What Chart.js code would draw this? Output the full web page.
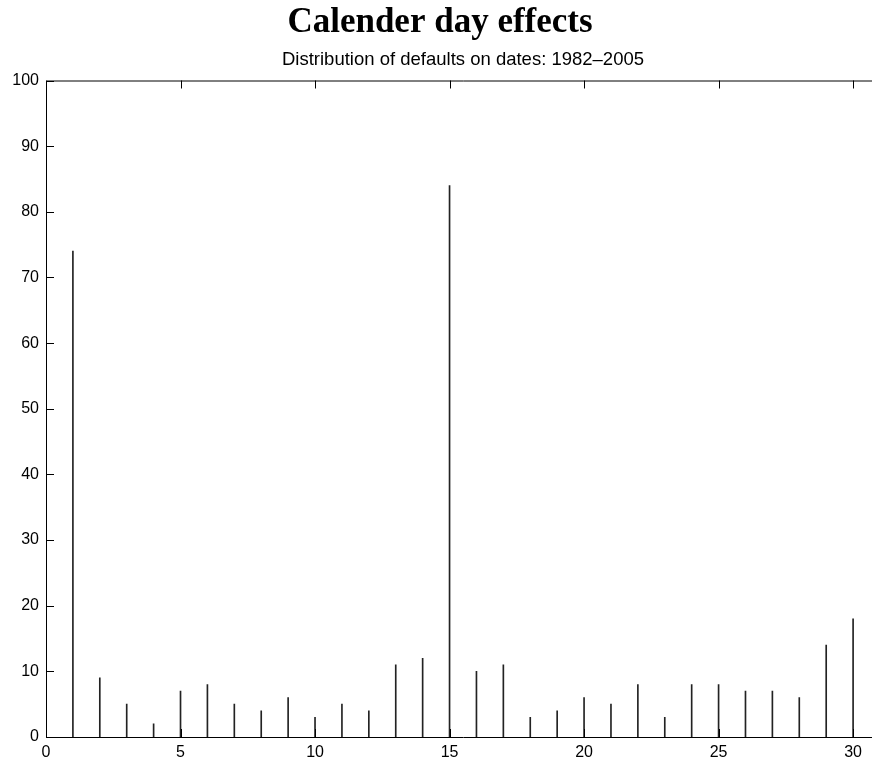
<!DOCTYPE html>
<html>
<head>
<meta charset="utf-8">
<script src="https://cdn.jsdelivr.net/npm/chart.js@4.4.1/dist/chart.umd.min.js"></script>
<style>
  html, body { margin: 0; padding: 0; background: #fff; overflow: hidden; }
  #clip { width: 872px; height: 765px; overflow: hidden; position: relative; }
  #wrap { width: 880px; height: 765px; position: absolute; left: 0; top: 0; }
</style>
</head>
<body>
<div id="clip"><div id="wrap"><canvas id="c"></canvas></div></div>
<script>
// ---- data ----
const days = [1,2,3,4,5,6,7,8,9,10,11,12,13,14,15,16,17,18,19,20,21,22,23,24,25,26,27,28,29,30];
const defaults = [74,9,5,2,7,8,5,4,6,3,5,4,11,12,84,10,11,3,4,6,5,8,3,8,8,7,7,6,14,18];
const xTicks = [0,5,10,15,20,25,30];
const yTicks = [0,10,20,30,40,50,60,70,80,90,100];
const titleText = 'Calender day effects';
const subtitleText = 'Distribution of defaults on dates: 1982\u20132005';

const inwardTicks = {
  id: 'inwardTicks',
  afterDraw(chart) {
    const {ctx, chartArea: a, scales: {x, y}} = chart;
    const L = 8;
    ctx.save();
    ctx.strokeStyle = '#000';
    ctx.lineWidth = 1;
    ctx.beginPath();
    // frame: bottom, left, top (right edge lies outside the visible window)
    ctx.moveTo(a.right + 0.5, a.bottom + 0.5);
    ctx.lineTo(a.left + 0.5, a.bottom + 0.5);
    ctx.lineTo(a.left + 0.5, a.top + 0.5);
    ctx.lineTo(a.right + 0.5, a.top + 0.5);
    xTicks.forEach(v => {
      const px = Math.round(x.getPixelForValue(v)) + 0.5;
      ctx.moveTo(px, a.bottom); ctx.lineTo(px, a.bottom - L);
      ctx.moveTo(px, a.top); ctx.lineTo(px, a.top + L);
    });
    yTicks.forEach(v => {
      const py = Math.round(y.getPixelForValue(v)) + 0.5;
      ctx.moveTo(a.left, py); ctx.lineTo(a.left + L, py);
    });
    ctx.stroke();
    ctx.restore();
  }
};

new Chart(document.getElementById('c'), {
  type: 'bar',
  data: {
    datasets: [{
      data: days.map((d, i) => ({x: d, y: defaults[i]})),
      backgroundColor: '#222',
      borderWidth: 0,
      barThickness: 1,
      grouped: false
    }]
  },
  options: {
    responsive: true,
    maintainAspectRatio: false,
    animation: false,
    devicePixelRatio: 1,
    layout: { padding: { left: 0, right: 0, top: 0, bottom: 0 } },
    plugins: {
      legend: { display: false },
      tooltip: { enabled: false },
      title: {
        display: true,
        text: titleText,
        color: '#000',
        font: { family: 'Liberation Serif', size: 35, weight: 'bold', lineHeight: 1.0 },
        padding: { top: 5, bottom: 7 }
      },
      subtitle: {
        display: true,
        text: subtitleText,
        color: '#000',
        fullSize: false,
        font: { family: 'Liberation Sans', size: 18.5, lineHeight: 1.0 },
        padding: { top: 4, bottom: 11 }
      }
    },
    scales: {
      x: {
        type: 'linear',
        min: 0,
        max: 31,
        offset: false,
        grid: { display: false, drawTicks: false },
        border: { display: false },
        afterBuildTicks: (s) => { s.ticks = xTicks.map(v => ({value: v})); },
        afterFit: (s) => { s.height = 28; },
        ticks: {
          color: '#000',
          padding: 6,
          maxRotation: 0,
          font: { family: 'Liberation Sans', size: 16 }
        }
      },
      y: {
        min: 0,
        max: 100,
        grid: { display: false, drawTicks: false },
        border: { display: false },
        afterBuildTicks: (s) => { s.ticks = yTicks.map(v => ({value: v})); },
        afterFit: (s) => { s.width = 46; },
        ticks: {
          color: '#000',
          padding: 7,
          font: { family: 'Liberation Sans', size: 16 }
        }
      }
    }
  },
  plugins: [inwardTicks]
});
</script>
</body>
</html>
